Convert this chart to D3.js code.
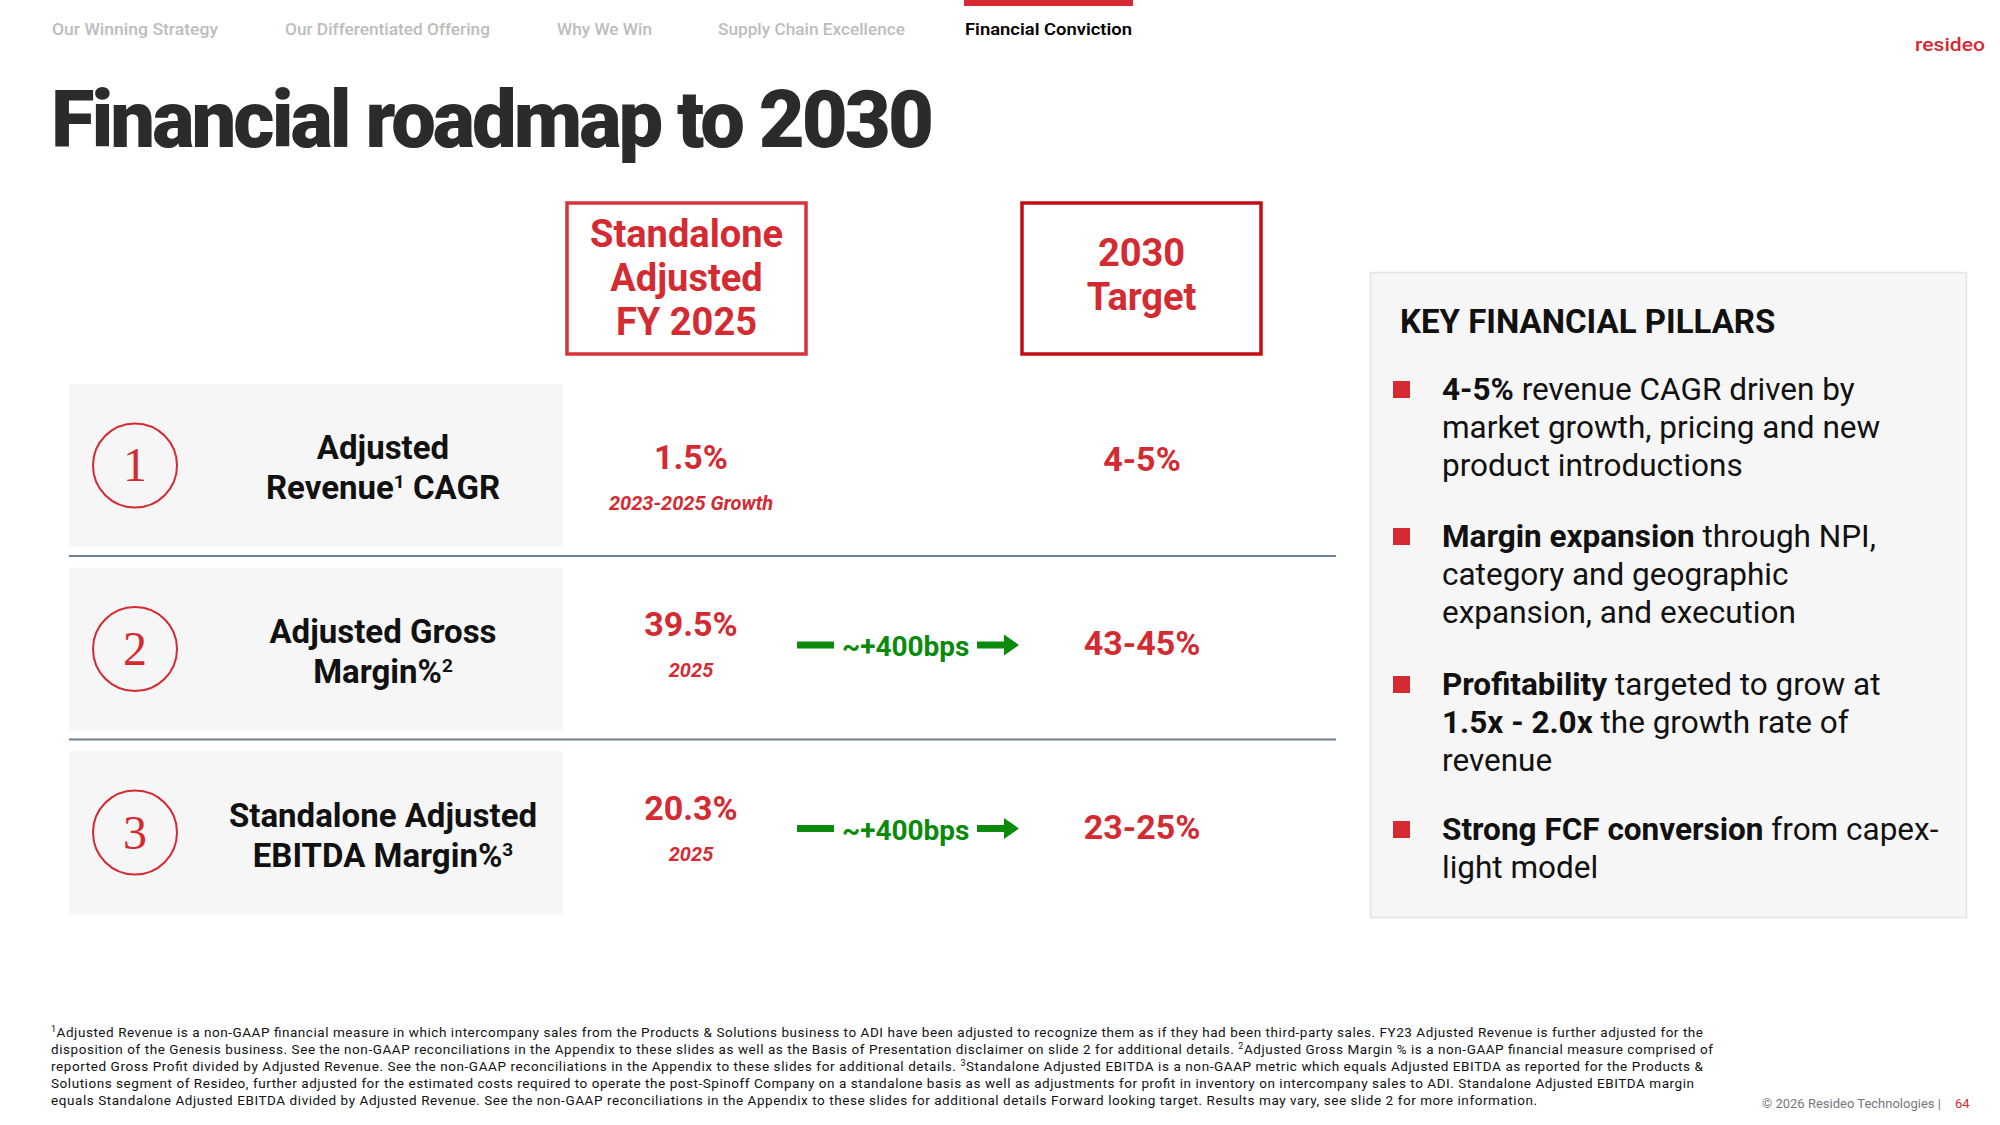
<!DOCTYPE html>
<html>
<head>
<meta charset="utf-8">
<script src="https://cdn.jsdelivr.net/npm/d3@7"></script>
<style>
  body { margin: 0; background: #fff; }
  svg { display: block; font-family: Roboto, "Noto Sans", sans-serif; }
</style>
</head>
<body>
<svg id="chart" width="2000" height="1125"></svg>
<script>
// ---- data ----
var navTabs = ['Our Winning Strategy', 'Our Differentiated Offering', 'Why We Win', 'Supply Chain Excellence', 'Financial Conviction'];
var activeTab = 'Financial Conviction';
var headers = [['Standalone', 'Adjusted', 'FY 2025'], ['2030', 'Target']];
var metrics = [['Adjusted', 'Revenue^1 CAGR'], ['Adjusted Gross', 'Margin%^2'], ['Standalone Adjusted', 'EBITDA Margin%^3']];
var baseValues = ['1.5%', '39.5%', '20.3%'];
var baseNotes = ['2023-2025 Growth', '2025', '2025'];
var deltas = [null, '~+400bps', '~+400bps'];
var targetValues = ['4-5%', '43-45%', '23-25%'];
var pillars = [
    [[['4-5%', 1], [' revenue CAGR driven by', 0]], [['market growth, pricing and new', 0]], [['product introductions', 0]]],
    [[['Margin expansion', 1], [' through NPI,', 0]], [['category and geographic', 0]], [['expansion, and execution', 0]]],
    [[['Profitability', 1], [' targeted to grow at', 0]], [['1.5x - 2.0x', 1], [' the growth rate of', 0]], [['revenue', 0]]],
    [[['Strong FCF conversion', 1], [' from capex-', 0]], [['light model', 0]]]
];
var footnotes = [
    '^1Adjusted Revenue is a non-GAAP financial measure in which intercompany sales from the Products & Solutions business to ADI have been adjusted to recognize them as if they had been third-party sales. FY23 Adjusted Revenue is further adjusted for the',
    'disposition of the Genesis business. See the non-GAAP reconciliations in the Appendix to these slides as well as the Basis of Presentation disclaimer on slide 2 for additional details.  ^2Adjusted Gross Margin % is a non-GAAP financial measure comprised of',
    'reported Gross Profit divided by Adjusted Revenue.  See the non-GAAP reconciliations in the Appendix to these slides for additional details.  ^3Standalone Adjusted EBITDA is a non-GAAP metric which equals Adjusted EBITDA as reported for the Products &',
    'Solutions segment of Resideo, further adjusted for the estimated costs required to operate the post-Spinoff Company on a standalone basis as well as adjustments for profit in inventory on intercompany sales to ADI.  Standalone Adjusted EBITDA margin',
    'equals Standalone Adjusted EBITDA divided by Adjusted Revenue.  See the non-GAAP reconciliations in the Appendix to these slides for additional details Forward looking target. Results may vary, see slide 2 for more information.'
];

// ---- style ----
var RED = '#d42a32';
var GREEN = '#0b8a0b';
var svg = d3.select('#chart');

// text with ^n superscripts
function addRich(sel, str, supSize, rise) {
    var parts = str.split(/\^(\d)/);
    parts.forEach(function (p, i) {
        if (p === '') return;
        if (i % 2 === 1) {
            sel.append('tspan').attr('dy', -rise).attr('font-size', supSize).text(p);
        } else {
            var t = sel.append('tspan').text(p);
            if (i > 0) t.attr('dy', rise);
        }
    });
    return sel;
}

function fitWidth(sel, w) {
    sel.attr('textLength', w).attr('lengthAdjust', 'spacingAndGlyphs');
}

// ---- nav ----
var navX = d3.scaleOrdinal().domain(navTabs).range([52, 285, 557, 718, 965]);
var navW = d3.scaleOrdinal().domain(navTabs).range([166, 205, 95, 187, 167]);
navTabs.forEach(function (t) {
    var active = t === activeTab;
    var txt = svg.append('text')
        .attr('x', navX(t)).attr('y', 35)
        .attr('font-size', 17)
        .attr('font-weight', active ? 600 : 500)
        .attr('fill', active ? '#000' : '#bdbdbd')
        .text(t);
    fitWidth(txt, navW(t));
    if (active) {
        svg.append('rect').attr('x', navX(t) - 1).attr('y', 0)
            .attr('width', navW(t) + 2).attr('height', 6).attr('fill', RED);
    }
});

// logo
fitWidth(svg.append('text').attr('x', 1915).attr('y', 51)
    .attr('font-size', 19).attr('font-weight', 500).attr('fill', RED)
    .text('resideo'), 70);

// title
fitWidth(svg.append('text').attr('x', 51).attr('y', 147)
    .attr('font-size', 80).attr('font-weight', 900).attr('fill', '#2b2b2b')
    .attr('letter-spacing', -3)
    .text('Financial roadmap to 2030'), 880);

// ---- header boxes ----
var colX = { label: 383, base: 691, target: 1142 };
var boxes = [
    { x: 567, w: 239, lines: headers[0], y0: 247, stroke: '#d7333b' },
    { x: 1022, w: 239, lines: headers[1], y0: 266, stroke: '#c40c14' }
];
boxes.forEach(function (b) {
    svg.append('rect').attr('x', b.x).attr('y', 203).attr('width', b.w).attr('height', 151)
        .attr('fill', 'none').attr('stroke', b.stroke).attr('stroke-width', 3.5);
    var t = svg.append('text').attr('text-anchor', 'middle')
        .attr('font-size', 38).attr('font-weight', 700).attr('fill', RED);
    b.lines.forEach(function (l, i) {
        t.append('tspan').attr('x', b.x + b.w / 2).attr('y', b.y0 + i * 44).text(l);
    });
});

// ---- rows ----
var rowY = d3.scaleBand().domain(d3.range(metrics.length)).range([384, 914]).paddingInner(0.112);

var rows = svg.selectAll('g.row').data(metrics).enter().append('g').attr('class', 'row')
    .attr('transform', function (d, i) { return 'translate(0,' + (rowY(i) + rowY.bandwidth() / 2) + ')'; });

rows.append('rect').attr('x', 69).attr('y', -rowY.bandwidth() / 2)
    .attr('width', 494).attr('height', rowY.bandwidth()).attr('fill', '#f6f6f6');

rows.filter(function (d, i) { return i < metrics.length - 1; })
    .append('line').attr('x1', 69).attr('x2', 1336)
    .attr('y1', rowY.bandwidth() / 2 + 9).attr('y2', rowY.bandwidth() / 2 + 9)
    .attr('stroke', '#6c7f95').attr('stroke-width', 2);

rows.append('circle').attr('cx', 135).attr('cy', 0).attr('r', 42)
    .attr('fill', 'none').attr('stroke', RED).attr('stroke-width', 2);
rows.append('text').attr('x', 135).attr('y', 16).attr('text-anchor', 'middle')
    .attr('font-family', '"Liberation Serif", serif').attr('font-size', 48).attr('fill', RED)
    .text(function (d, i) { return i + 1; });

rows.each(function (d, i) {
    var g = d3.select(this);
    var t = g.append('text').attr('text-anchor', 'middle')
        .attr('font-size', 33).attr('font-weight', 700).attr('fill', '#111');
    d.forEach(function (line, k) {
        var ts = t.append('tspan').attr('x', colX.label).attr('y', -6 + k * 40);
        addRich(ts, line, 19, 11);
    });

    var hasDelta = deltas[i] !== null;
    var vy = hasDelta ? -13 : 4;
    g.append('text').attr('x', colX.base).attr('y', vy).attr('text-anchor', 'middle')
        .attr('font-size', 34).attr('font-weight', 700).attr('fill', RED).text(baseValues[i]);
    g.append('text').attr('x', colX.base).attr('y', vy + 41).attr('text-anchor', 'middle')
        .attr('font-size', 20).attr('font-weight', 700).attr('font-style', 'italic')
        .attr('fill', RED).text(baseNotes[i]);

    g.append('text').attr('x', colX.target).attr('y', 6).attr('text-anchor', 'middle')
        .attr('font-size', 34).attr('font-weight', 700).attr('fill', RED).text(targetValues[i]);

    if (hasDelta) {
        var ay = -4;
        g.append('rect').attr('x', 797).attr('y', ay - 3.5).attr('width', 37).attr('height', 7).attr('fill', GREEN);
        g.append('text').attr('x', 842).attr('y', ay + 11)
            .attr('font-size', 28).attr('font-weight', 700).attr('fill', GREEN).text(deltas[i]);
        g.append('path')
            .attr('d', 'M977,' + (ay - 3.5) + 'H1004V' + (ay - 10.5) + 'L1019,' + ay + 'L1004,' + (ay + 10.5) + 'V' + (ay + 3.5) + 'H977Z')
            .attr('fill', GREEN);
    }
});

// ---- key pillars panel ----
svg.append('rect').attr('x', 1370.5).attr('y', 272.5).attr('width', 596).attr('height', 645)
    .attr('fill', '#f6f6f6').attr('stroke', '#e4e4e4').attr('stroke-width', 1.5);
svg.append('text').attr('x', 1400).attr('y', 333).attr('font-size', 33).attr('font-weight', 700)
    .attr('fill', '#111').text('KEY FINANCIAL PILLARS');

var pillarTop = [400, 547, 695, 840];
pillars.forEach(function (p, i) {
    var y0 = pillarTop[i];
    svg.append('rect').attr('x', 1393).attr('y', y0 - 19).attr('width', 17).attr('height', 17).attr('fill', RED);
    var t = svg.append('text').attr('font-size', 31.5).attr('fill', '#111');
    p.forEach(function (line, k) {
        var first = true;
        line.forEach(function (seg) {
            var ts = t.append('tspan').attr('font-weight', seg[1] ? 700 : 400).text(seg[0]);
            if (first) { ts.attr('x', 1442).attr('y', y0 + k * 38); first = false; }
        });
    });
});

// ---- footer ----
var footW = [1652, 1662, 1652, 1643, 1486];
footnotes.forEach(function (f, i) {
    var t = svg.append('text').attr('x', 51).attr('y', 1037 + i * 17)
        .attr('font-size', 13.5).attr('fill', '#111');
    addRich(t, f, 9, 5);
    t.attr('textLength', footW[i]).attr('lengthAdjust', 'spacing');
});
svg.append('text').attr('x', 1762).attr('y', 1108).attr('font-size', 13).attr('fill', '#777')
    .text('© 2026 Resideo Technologies  |');
svg.append('text').attr('x', 1955).attr('y', 1108).attr('font-size', 13).attr('fill', RED).text('64');
</script>
</body>
</html>
